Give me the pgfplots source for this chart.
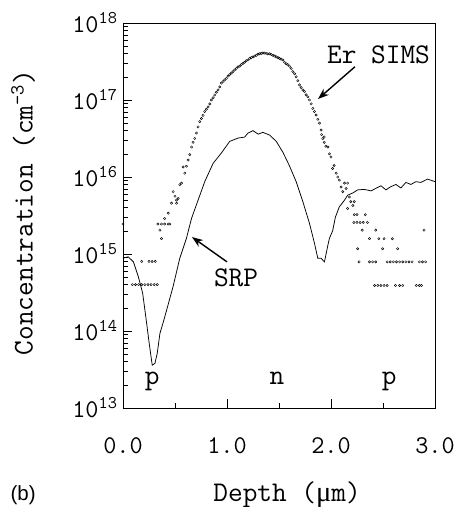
\documentclass[border=0pt]{standalone}
\usepackage{pgfplots}
\pgfplotsset{compat=1.18}
\usepackage{fontspec}
\newfontfamily\arialfont{Liberation Sans}
\newfontfamily\mufont{Liberation Serif}
\usetikzlibrary{arrows.meta}
\begin{document}
\ttfamily
\begin{tikzpicture}
\useasboundingbox (-123pt,-99pt) rectangle (343pt,408pt);
\begin{axis}[
 at={(0,0)}, anchor=south west,
 scale only axis, width=312pt, height=385pt,
 xmin=0, xmax=3, ymode=log, ymin=1e13, ymax=1e18,
 xtick={0,1,2,3}, xticklabels={0.0,1.0,2.0,3.0},
 minor x tick num=1,
 ytick={1e13,1e14,1e15,1e16,1e17,1e18},
 yticklabels={10\textsuperscript{13},10\textsuperscript{14},10\textsuperscript{15},10\textsuperscript{16},10\textsuperscript{17},10\textsuperscript{18}},
 tick pos=left, tick align=inside,
 major tick length=9pt, minor tick length=5pt,
 tick style={black, line width=0.6pt},
 axis line style={line width=0.9pt},
 ticklabel style={font=\ttfamily\fontsize{25.5}{30}\selectfont},
 xticklabel shift=26pt,
 yticklabel shift=2pt,
 xlabel={Depth ({\mufont μ}m)}, ylabel={Concentration (cm\textsuperscript{-3})},
 label style={font=\ttfamily\fontsize{28.5}{33}\selectfont, inner sep=0pt},
 xlabel style={at={(axis description cs:0.526,-0.226)},anchor=center},
 ylabel style={at={(axis description cs:-0.32,0.508)},anchor=center},
 clip=false,
]
% SRP
\addplot[black, line width=0.75pt] coordinates {
(0.00,8.8e14)(0.05,9.2e14)(0.10,7.9e14)(0.147,5.1e14)(0.189,3.1e14)(0.22,1.5e14)(0.252,6.9e13)(0.281,3.6e13)(0.307,3.8e13)(0.329,5.1e13)(0.355,9.3e13)(0.387,1.3e14)(0.434,2.2e14)(0.482,3.8e14)(0.546,8.8e14)(0.61,1.6e15)(0.659,2.9e15)(0.722,5.0e15)(0.786,8.7e15)(0.866,1.5e16)(0.946,2.05e16)(1.026,2.9e16)(1.106,3.2e16)(1.17,3.3e16)(1.20,3.7e16)(1.25,4.0e16)(1.30,3.6e16)(1.345,3.8e16)(1.41,3.5e16)(1.474,2.9e16)(1.537,2.1e16)(1.60,1.4e16)(1.665,8.7e15)(1.729,4.8e15)(1.793,2.5e15)(1.84,1.4e15)(1.873,8.8e14)(1.905,8.8e14)(1.937,7.9e14)(1.97,1.3e15)(1.985,1.6e15)(2.016,2.0e15)(2.042,3.0e15)(2.08,4.1e15)(2.13,5.0e15)(2.16,5.8e15)(2.21,6.2e15)(2.256,6.8e15)(2.32,6.9e15)(2.385,6.6e15)(2.43,7.1e15)(2.48,7.7e15)(2.528,6.8e15)(2.576,7.5e15)(2.624,8.0e15)(2.672,7.2e15)(2.72,8.5e15)(2.768,8.0e15)(2.816,8.7e15)(2.864,8.5e15)(2.928,9.4e15)(3.0,8.7e15)
};
% Er SIMS
\addplot[only marks, mark=o, mark size=1.15pt, mark options={black, line width=0.45pt}] coordinates {
(0.00,2.45e15)(0.335,2.45e15)(0.355,2.04e15)(0.37,1.58e15)(0.37,2.45e15)(0.40,2.45e15)(0.40,2.88e15)(0.435,3.39e15)(0.435,2.45e15)(0.45,2.45e15)
(0.466,4.57e15)(0.482,6.46e15)(0.50,5.62e15)(0.515,5.01e15)(0.515,4.57e15)(0.53,5.25e15)(0.546,7.94e15)(0.562,8.32e15)(0.578,1.35e16)(0.594,1.12e16)
(0.61,1.38e16)(0.626,1.66e16)(0.642,1.95e16)(0.659,2.45e16)(0.674,2.82e16)(0.69,3.16e16)(0.706,3.72e16)(0.722,4.47e16)(0.738,5.25e16)(0.754,5.75e16)
(0.77,6.31e16)(0.786,7.08e16)(0.802,7.59e16)(0.818,8.13e16)(0.834,8.91e16)(0.85,1.00e17)(0.866,1.07e17)(0.882,1.16e17)(0.898,1.26e17)(0.914,1.35e17)
(0.93,1.48e17)(0.946,1.66e17)(0.962,1.74e17)(0.978,1.82e17)(0.994,1.91e17)(1.01,2.04e17)(1.026,2.14e17)(1.042,2.24e17)(1.058,2.34e17)(1.074,2.45e17)
(1.09,2.57e17)(1.106,2.69e17)(1.122,2.75e17)(1.138,2.88e17)(1.154,2.99e17)(1.17,3.09e17)(1.186,3.24e17)(1.202,3.31e17)(1.218,3.47e17)(1.234,3.55e17)
(1.25,3.63e17)(1.266,3.72e17)(1.282,3.80e17)(1.298,3.94e17)(1.314,3.98e17)(1.33,4.03e17)(1.345,4.07e17)(1.36,4.07e17)(1.376,4.03e17)(1.392,3.98e17)
(1.41,3.98e17)(1.426,3.89e17)(1.442,3.80e17)(1.458,3.72e17)(1.474,3.63e17)(1.49,3.55e17)(1.505,3.47e17)(1.52,3.39e17)(1.537,3.31e17)(1.553,3.09e17)
(1.57,2.95e17)(1.585,2.88e17)(1.60,2.75e17)(1.617,2.57e17)(1.633,2.34e17)(1.65,2.19e17)(1.665,2.00e17)(1.681,1.78e17)(1.697,1.57e17)(1.713,1.45e17)
(1.729,1.35e17)(1.745,1.29e17)(1.761,1.17e17)(1.777,1.10e17)(1.793,1.00e17)(1.809,8.91e16)(1.825,7.76e16)(1.841,7.08e16)(1.857,6.38e16)(1.873,5.62e16)
(1.889,5.01e16)(1.905,4.07e16)(1.91,3.55e16)(1.921,3.16e16)(1.935,2.82e16)(1.935,3.31e16)(1.95,2.51e16)(1.97,2.45e16)(1.985,2.00e16)(2.0,1.82e16)
(2.016,1.29e16)(2.03,1.41e16)(2.05,1.12e16)(2.065,1.00e16)(2.08,9.12e15)(2.097,7.41e15)(2.113,6.46e15)(2.13,8.32e15)(2.145,7.08e15)(2.16,8.32e15)
(2.16,3.89e15)(2.176,5.50e15)(2.19,4.79e15)(2.21,4.27e15)(2.224,4.79e15)(2.224,3.24e15)(2.25,3.24e15)(2.33,3.24e15)
(2.22,2.57e15)(2.25,2.57e15)(2.28,2.57e15)(2.31,2.57e15)(2.35,2.57e15)(2.30,2.04e15)(2.43,2.04e15)(2.895,2.04e15)
(2.37,1.58e15)(2.46,1.58e15)(2.51,1.58e15)(2.59,1.58e15)(2.256,1.17e15)(2.496,1.17e15)(2.64,1.17e15)
(2.27,7.9e14)(2.37,7.9e14)(2.40,7.9e14)(2.43,7.9e14)(2.54,7.9e14)(2.57,7.9e14)(2.60,7.9e14)(2.63,7.9e14)(2.66,7.9e14)(2.69,7.9e14)(2.72,7.9e14)(2.75,7.9e14)(2.78,7.9e14)(2.85,7.9e14)(2.88,7.9e14)(2.91,7.9e14)
(2.42,3.9e14)(2.45,3.9e14)(2.48,3.9e14)(2.51,3.9e14)(2.54,3.9e14)(2.62,3.9e14)(2.66,3.9e14)(2.69,3.9e14)(2.82,3.9e14)(2.85,3.9e14)(2.87,3.9e14)
(0.18,8.0e14)(0.25,8.0e14)(0.28,8.0e14)(0.31,8.0e14)
(0.09,4.0e14)(0.12,4.0e14)(0.15,4.0e14)(0.18,4.0e14)(0.21,4.0e14)(0.24,4.0e14)(0.27,4.0e14)(0.30,4.0e14)(0.33,4.0e14)
};
\node[font=\ttfamily\fontsize{28.5}{33}\selectfont] at (axis cs:2.457,3.84e17) {Er SIMS};
\draw[line width=1.4pt, -{Stealth[length=11pt,width=8pt]}] (axis cs:2.23,2.7e17) -- (axis cs:1.875,1.03e17);
\node[font=\ttfamily\fontsize{28.5}{33}\selectfont] at (axis cs:1.087,4.9e14) {SRP};
\draw[line width=1.4pt, -{Stealth[length=11pt,width=8pt]}] (axis cs:1.0,7.9e14) -- (axis cs:0.663,1.66e15);
\node[font=\ttfamily\fontsize{28.5}{33}\selectfont, anchor=base] at (axis cs:0.28,2.0e13) {p};
\node[font=\ttfamily\fontsize{28.5}{33}\selectfont, anchor=base] at (axis cs:1.48,2.0e13) {n};
\node[font=\ttfamily\fontsize{28.5}{33}\selectfont, anchor=base] at (axis cs:2.56,2.0e13) {p};
\node[font=\arialfont\fontsize{20.5}{24}\selectfont, inner sep=0pt] at (axis description cs:-0.32,-0.226) {(b)};
\end{axis}
\end{tikzpicture}
\end{document}
